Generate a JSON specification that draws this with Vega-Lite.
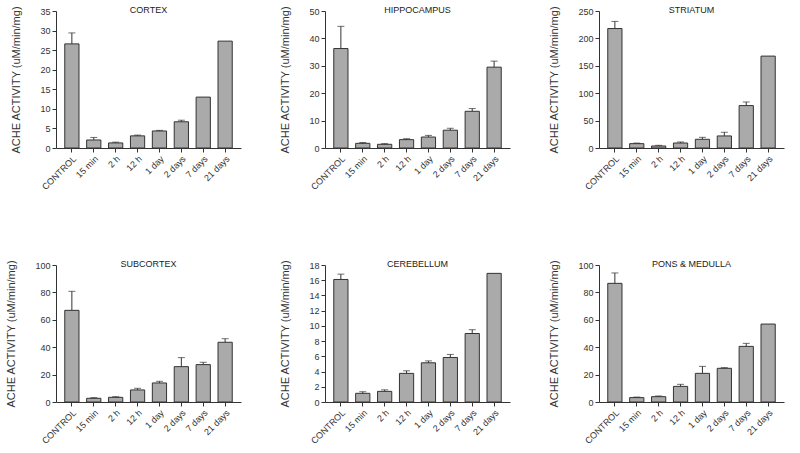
{
  "$schema": "https://vega.github.io/schema/vega-lite/v6.json",
  "background": "white",
  "padding": 5,
  "config": {
    "font": "Liberation Sans",
    "view": {"stroke": null},
    "axis": {"grid": false, "domainColor": "#333333", "tickColor": "#333333", "labelColor": "#333333", "labelFont": "Liberation Sans", "labelFontSize": 9, "titleFont": "Liberation Sans", "titleFontWeight": "normal", "titleColor": "#333333", "titleFontSize": 11, "tickSize": 4, "labelPadding": 2},
    "axisX": {"labelAngle": -45, "title": null},
    "axisY": {"titlePadding": 18},
    "title": {"fontSize": 9, "fontWeight": "normal", "color": "#222222", "offset": -9, "font": "Liberation Sans", "anchor": "middle"}
  },
  "datasets": {
    "d": [
      {"region": "CORTEX", "t": "CONTROL", "v": 26.6, "hi": 29.4},
      {"region": "CORTEX", "t": "15 min", "v": 2.05, "hi": 2.7},
      {"region": "CORTEX", "t": "2 h", "v": 1.3, "hi": 1.5},
      {"region": "CORTEX", "t": "12 h", "v": 3.1, "hi": 3.3},
      {"region": "CORTEX", "t": "1 day", "v": 4.35, "hi": 4.5},
      {"region": "CORTEX", "t": "2 days", "v": 6.7, "hi": 7.1},
      {"region": "CORTEX", "t": "7 days", "v": 13.0, "hi": 13.0},
      {"region": "CORTEX", "t": "21 days", "v": 27.3, "hi": 27.3},
      {"region": "HIPPOCAMPUS", "t": "CONTROL", "v": 36.3, "hi": 44.4},
      {"region": "HIPPOCAMPUS", "t": "15 min", "v": 1.7, "hi": 2.0},
      {"region": "HIPPOCAMPUS", "t": "2 h", "v": 1.35, "hi": 1.6},
      {"region": "HIPPOCAMPUS", "t": "12 h", "v": 3.05, "hi": 3.4},
      {"region": "HIPPOCAMPUS", "t": "1 day", "v": 4.0, "hi": 4.6},
      {"region": "HIPPOCAMPUS", "t": "2 days", "v": 6.5, "hi": 7.2},
      {"region": "HIPPOCAMPUS", "t": "7 days", "v": 13.4, "hi": 14.4},
      {"region": "HIPPOCAMPUS", "t": "21 days", "v": 29.5, "hi": 31.7},
      {"region": "STRIATUM", "t": "CONTROL", "v": 218, "hi": 231},
      {"region": "STRIATUM", "t": "15 min", "v": 7.9, "hi": 9},
      {"region": "STRIATUM", "t": "2 h", "v": 3.7, "hi": 4.9},
      {"region": "STRIATUM", "t": "12 h", "v": 9.1, "hi": 11},
      {"region": "STRIATUM", "t": "1 day", "v": 15.9, "hi": 19.5},
      {"region": "STRIATUM", "t": "2 days", "v": 22, "hi": 28.7},
      {"region": "STRIATUM", "t": "7 days", "v": 77.4, "hi": 84},
      {"region": "STRIATUM", "t": "21 days", "v": 167.7, "hi": 167.7},
      {"region": "SUBCORTEX", "t": "CONTROL", "v": 66.9, "hi": 80.8},
      {"region": "SUBCORTEX", "t": "15 min", "v": 2.7, "hi": 3.2},
      {"region": "SUBCORTEX", "t": "2 h", "v": 3.4, "hi": 3.9},
      {"region": "SUBCORTEX", "t": "12 h", "v": 8.8, "hi": 10},
      {"region": "SUBCORTEX", "t": "1 day", "v": 13.9, "hi": 15.1},
      {"region": "SUBCORTEX", "t": "2 days", "v": 25.8, "hi": 32.4},
      {"region": "SUBCORTEX", "t": "7 days", "v": 27.3, "hi": 29},
      {"region": "SUBCORTEX", "t": "21 days", "v": 43.6, "hi": 46.2},
      {"region": "CEREBELLUM", "t": "CONTROL", "v": 16.1, "hi": 16.8},
      {"region": "CEREBELLUM", "t": "15 min", "v": 1.14, "hi": 1.35},
      {"region": "CEREBELLUM", "t": "2 h", "v": 1.4, "hi": 1.6},
      {"region": "CEREBELLUM", "t": "12 h", "v": 3.76, "hi": 4.1},
      {"region": "CEREBELLUM", "t": "1 day", "v": 5.15, "hi": 5.4},
      {"region": "CEREBELLUM", "t": "2 days", "v": 5.85, "hi": 6.25},
      {"region": "CEREBELLUM", "t": "7 days", "v": 9.0, "hi": 9.5},
      {"region": "CEREBELLUM", "t": "21 days", "v": 16.9, "hi": 16.9},
      {"region": "PONS & MEDULLA", "t": "CONTROL", "v": 86.6, "hi": 94.2},
      {"region": "PONS & MEDULLA", "t": "15 min", "v": 3.2, "hi": 3.6},
      {"region": "PONS & MEDULLA", "t": "2 h", "v": 3.9, "hi": 4.4},
      {"region": "PONS & MEDULLA", "t": "12 h", "v": 11.4, "hi": 12.9},
      {"region": "PONS & MEDULLA", "t": "1 day", "v": 20.9, "hi": 26},
      {"region": "PONS & MEDULLA", "t": "2 days", "v": 24.6, "hi": 25.1},
      {"region": "PONS & MEDULLA", "t": "7 days", "v": 40.6, "hi": 42.8},
      {"region": "PONS & MEDULLA", "t": "21 days", "v": 56.9, "hi": 56.9}
    ]
  },
  "columns": 3,
  "spacing": {"row": 67, "column": 38},
  "concat": [
    {
      "title": "CORTEX",
      "width": 185, "height": 137,
      "data": {"name": "d"},
      "transform": [{"filter": "datum.region === 'CORTEX'"}],
      "encoding": {
        "x": {"field": "t", "type": "nominal", "sort": ["CONTROL", "15 min", "2 h", "12 h", "1 day", "2 days", "7 days", "21 days"], "scale": {"paddingInner": 0.35, "paddingOuter": 0.4}},
        "y": {"field": "v", "type": "quantitative", "title": "ACHE ACTIVITY (uM/min/mg)", "scale": {"domain": [0, 35]}, "axis": {"values": [0, 5, 10, 15, 20, 25, 30, 35]}}
      },
      "layer": [
        {"mark": {"type": "bar", "fill": "#aaaaaa", "stroke": "#333333", "strokeWidth": 1}},
        {"transform": [{"filter": "datum.hi > datum.v"}], "mark": {"type": "rule", "color": "#333333"}, "encoding": {"y2": {"field": "hi"}}},
        {"transform": [{"filter": "datum.hi > datum.v"}], "mark": {"type": "tick", "color": "#333333", "size": 7, "thickness": 1}, "encoding": {"y": {"field": "hi", "type": "quantitative", "title": "ACHE ACTIVITY (uM/min/mg)"}}}
      ]
    },
    {
      "title": "HIPPOCAMPUS",
      "width": 185, "height": 137,
      "data": {"name": "d"},
      "transform": [{"filter": "datum.region === 'HIPPOCAMPUS'"}],
      "encoding": {
        "x": {"field": "t", "type": "nominal", "sort": ["CONTROL", "15 min", "2 h", "12 h", "1 day", "2 days", "7 days", "21 days"], "scale": {"paddingInner": 0.35, "paddingOuter": 0.4}},
        "y": {"field": "v", "type": "quantitative", "title": "ACHE ACTIVITY (uM/min/mg)", "scale": {"domain": [0, 50]}, "axis": {"values": [0, 10, 20, 30, 40, 50]}}
      },
      "layer": [
        {"mark": {"type": "bar", "fill": "#aaaaaa", "stroke": "#333333", "strokeWidth": 1}},
        {"transform": [{"filter": "datum.hi > datum.v"}], "mark": {"type": "rule", "color": "#333333"}, "encoding": {"y2": {"field": "hi"}}},
        {"transform": [{"filter": "datum.hi > datum.v"}], "mark": {"type": "tick", "color": "#333333", "size": 7, "thickness": 1}, "encoding": {"y": {"field": "hi", "type": "quantitative", "title": "ACHE ACTIVITY (uM/min/mg)"}}}
      ]
    },
    {
      "title": "STRIATUM",
      "width": 185, "height": 137,
      "data": {"name": "d"},
      "transform": [{"filter": "datum.region === 'STRIATUM'"}],
      "encoding": {
        "x": {"field": "t", "type": "nominal", "sort": ["CONTROL", "15 min", "2 h", "12 h", "1 day", "2 days", "7 days", "21 days"], "scale": {"paddingInner": 0.35, "paddingOuter": 0.4}},
        "y": {"field": "v", "type": "quantitative", "title": "ACHE ACTIVITY (uM/min/mg)", "scale": {"domain": [0, 250]}, "axis": {"values": [0, 50, 100, 150, 200, 250]}}
      },
      "layer": [
        {"mark": {"type": "bar", "fill": "#aaaaaa", "stroke": "#333333", "strokeWidth": 1}},
        {"transform": [{"filter": "datum.hi > datum.v"}], "mark": {"type": "rule", "color": "#333333"}, "encoding": {"y2": {"field": "hi"}}},
        {"transform": [{"filter": "datum.hi > datum.v"}], "mark": {"type": "tick", "color": "#333333", "size": 7, "thickness": 1}, "encoding": {"y": {"field": "hi", "type": "quantitative", "title": "ACHE ACTIVITY (uM/min/mg)"}}}
      ]
    },
    {
      "title": "SUBCORTEX",
      "width": 185, "height": 137,
      "data": {"name": "d"},
      "transform": [{"filter": "datum.region === 'SUBCORTEX'"}],
      "encoding": {
        "x": {"field": "t", "type": "nominal", "sort": ["CONTROL", "15 min", "2 h", "12 h", "1 day", "2 days", "7 days", "21 days"], "scale": {"paddingInner": 0.35, "paddingOuter": 0.4}},
        "y": {"field": "v", "type": "quantitative", "title": "ACHE ACTIVITY (uM/min/mg)", "scale": {"domain": [0, 100]}, "axis": {"values": [0, 20, 40, 60, 80, 100]}}
      },
      "layer": [
        {"mark": {"type": "bar", "fill": "#aaaaaa", "stroke": "#333333", "strokeWidth": 1}},
        {"transform": [{"filter": "datum.hi > datum.v"}], "mark": {"type": "rule", "color": "#333333"}, "encoding": {"y2": {"field": "hi"}}},
        {"transform": [{"filter": "datum.hi > datum.v"}], "mark": {"type": "tick", "color": "#333333", "size": 7, "thickness": 1}, "encoding": {"y": {"field": "hi", "type": "quantitative", "title": "ACHE ACTIVITY (uM/min/mg)"}}}
      ]
    },
    {
      "title": "CEREBELLUM",
      "width": 185, "height": 137,
      "data": {"name": "d"},
      "transform": [{"filter": "datum.region === 'CEREBELLUM'"}],
      "encoding": {
        "x": {"field": "t", "type": "nominal", "sort": ["CONTROL", "15 min", "2 h", "12 h", "1 day", "2 days", "7 days", "21 days"], "scale": {"paddingInner": 0.35, "paddingOuter": 0.4}},
        "y": {"field": "v", "type": "quantitative", "title": "ACHE ACTIVITY (uM/min/mg)", "scale": {"domain": [0, 18]}, "axis": {"values": [0, 2, 4, 6, 8, 10, 12, 14, 16, 18]}}
      },
      "layer": [
        {"mark": {"type": "bar", "fill": "#aaaaaa", "stroke": "#333333", "strokeWidth": 1}},
        {"transform": [{"filter": "datum.hi > datum.v"}], "mark": {"type": "rule", "color": "#333333"}, "encoding": {"y2": {"field": "hi"}}},
        {"transform": [{"filter": "datum.hi > datum.v"}], "mark": {"type": "tick", "color": "#333333", "size": 7, "thickness": 1}, "encoding": {"y": {"field": "hi", "type": "quantitative", "title": "ACHE ACTIVITY (uM/min/mg)"}}}
      ]
    },
    {
      "title": "PONS & MEDULLA",
      "width": 185, "height": 137,
      "data": {"name": "d"},
      "transform": [{"filter": "datum.region === 'PONS & MEDULLA'"}],
      "encoding": {
        "x": {"field": "t", "type": "nominal", "sort": ["CONTROL", "15 min", "2 h", "12 h", "1 day", "2 days", "7 days", "21 days"], "scale": {"paddingInner": 0.35, "paddingOuter": 0.4}},
        "y": {"field": "v", "type": "quantitative", "title": "ACHE ACTIVITY (uM/min/mg)", "scale": {"domain": [0, 100]}, "axis": {"values": [0, 20, 40, 60, 80, 100]}}
      },
      "layer": [
        {"mark": {"type": "bar", "fill": "#aaaaaa", "stroke": "#333333", "strokeWidth": 1}},
        {"transform": [{"filter": "datum.hi > datum.v"}], "mark": {"type": "rule", "color": "#333333"}, "encoding": {"y2": {"field": "hi"}}},
        {"transform": [{"filter": "datum.hi > datum.v"}], "mark": {"type": "tick", "color": "#333333", "size": 7, "thickness": 1}, "encoding": {"y": {"field": "hi", "type": "quantitative", "title": "ACHE ACTIVITY (uM/min/mg)"}}}
      ]
    }
  ]
}
